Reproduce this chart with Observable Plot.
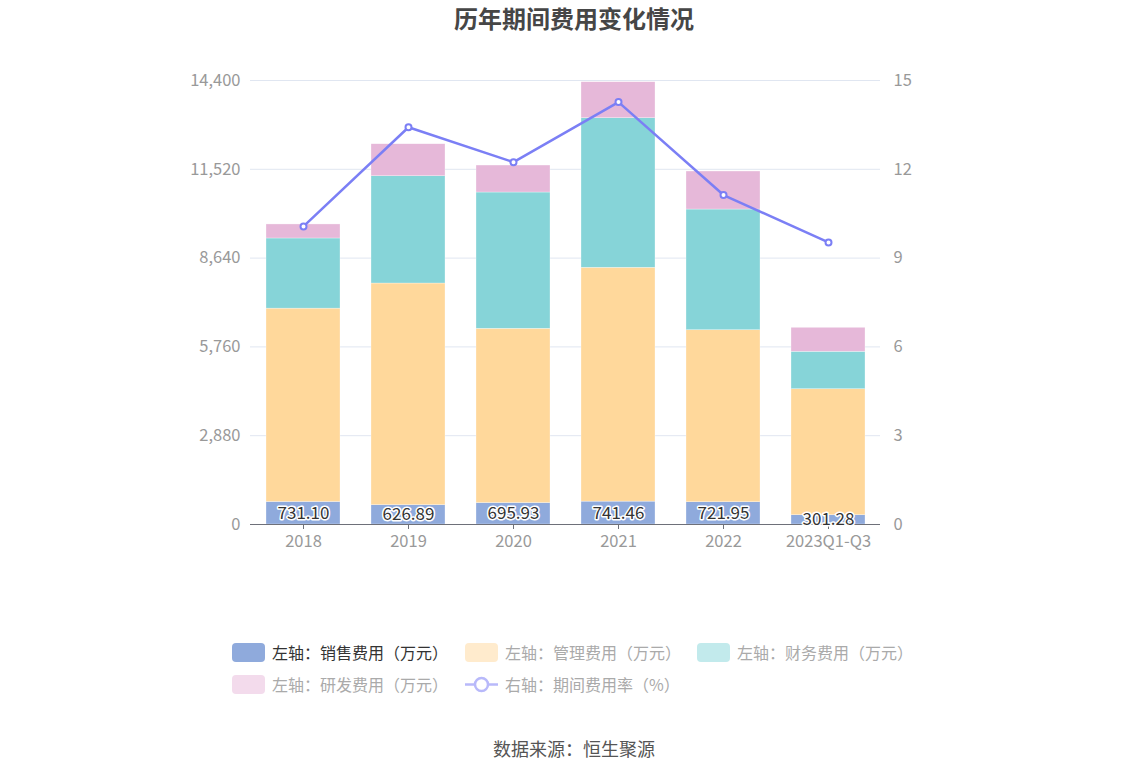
<!DOCTYPE html>
<html>
<head>
<meta charset="utf-8">
<script src="https://cdn.jsdelivr.net/npm/d3@7"></script>
<script src="https://cdn.jsdelivr.net/npm/@observablehq/plot@0.6"></script>
<style>
  html, body { margin: 0; padding: 0; background: #fff; }
  body { width: 1148px; height: 776px; position: relative; overflow: hidden; font-family: "Noto Sans CJK SC", "Noto Sans", sans-serif; }
  #title { position: absolute; left: 0; top: 1px; width: 1148px; text-align: center; font-size: 24px; font-weight: bold; color: #464646; line-height: 34px; }
  #chart { position: absolute; left: 0; top: 0; }
  .leg { position: absolute; display: flex; align-items: center; font-size: 16px; color: #aaa; white-space: nowrap; }
  .sw { width: 33px; height: 19px; border-radius: 4px; margin-right: 7px; }
  #source { position: absolute; left: 0; top: 735px; width: 1148px; text-align: center; font-size: 18px; color: #555; }
</style>
</head>
<body>
<div id="chart"></div>
<div id="title">历年期间费用变化情况</div>
<div id="legend"></div>
<div id="source">数据来源：恒生聚源</div>
<script>
const categories = ["2018", "2019", "2020", "2021", "2022", "2023Q1-Q3"];
const salesExp   = [731.10, 626.89, 695.93, 741.46, 721.95, 301.28];
const mgmtExp    = [6270, 7189, 5651, 7584, 5579, 4087];
const financeExp = [2275, 3479, 4420, 4851, 3914, 1213];
const rndExp     = [455, 1038, 875, 1168, 1233, 778];
const expenseRate = [10.07, 13.42, 12.24, 14.27, 11.13, 9.53];
const seriesNames = ["左轴：销售费用（万元）", "左轴：管理费用（万元）", "左轴：财务费用（万元）", "左轴：研发费用（万元）"];
const lineName = "右轴：期间费用率（%）";
const leftTicks = [0, 2880, 5760, 8640, 11520, 14400];
const rightTicks = [0, 3, 6, 9, 12, 15];

const colors = ["#8FAADC", "#FFD89B", "#86D4D8", "#E6B8D9"];
const legendColors = ["#8FAADC", "#FFEBCD", "#C2EAEC", "#F3DBEC"];
const lineColor = "#7B7FF5";
const ratio = leftTicks[leftTicks.length - 1] / rightTicks[rightTicks.length - 1];

const seriesValues = [salesExp, mgmtExp, financeExp, rndExp];
const table = [];
categories.forEach((c, i) => {
  seriesValues.forEach((vals, s) => table.push({cat: c, series: seriesNames[s], value: vals[i]}));
});
const rateData = categories.map((c, i) => ({cat: c, rate: expenseRate[i]}));
const salesData = categories.map((c, i) => ({cat: c, v: salesExp[i]}));

const font = "'Noto Sans CJK SC', 'Noto Sans', sans-serif";
const chart = Plot.plot({
  width: 1148,
  height: 560,
  marginLeft: 250,
  marginRight: 268,
  marginTop: 80,
  marginBottom: 36,
  style: {fontFamily: font, fontSize: "16px", background: "transparent", overflow: "visible"},
  x: {domain: categories, paddingInner: 0.3, paddingOuter: 0.15, label: null},
  y: {domain: [0, leftTicks[leftTicks.length - 1]], label: null},
  color: {domain: seriesNames, range: colors},
  marks: [
    Plot.gridY(leftTicks, {stroke: "#E0E6F1", strokeOpacity: 1, strokeWidth: 1}),
    Plot.barY(table, Plot.stackY({x: "cat", y: "value", fill: "series", stroke: "#ffffff", strokeWidth: 0.5, strokeOpacity: 0.6})),
    Plot.axisX({tickSize: 5, tickPadding: 6, stroke: "#6E7079", fill: "#999", fontSize: 16.5, label: null}),
    Plot.ruleY([0], {stroke: "#6E7079", strokeWidth: 1}),
    Plot.axisY({ticks: leftTicks, tickSize: 0, tickPadding: 10, tickFormat: d3.format(","), fill: "#999", fontSize: 16.5, label: null}),
    Plot.axisY({anchor: "right", ticks: leftTicks, tickSize: 0, tickPadding: 13, tickFormat: d => String(d / ratio), fill: "#999", fontSize: 16.5, label: null}),
    Plot.line(rateData, {x: "cat", y: d => d.rate * ratio, stroke: lineColor, strokeWidth: 2.5}),
    Plot.dot(rateData, {x: "cat", y: d => d.rate * ratio, r: 3, fill: "#fff", stroke: lineColor, strokeWidth: 2}),
    Plot.text(salesData, {x: "cat", y: d => d.v / 2, text: d => d.v.toFixed(2), fill: "#333", stroke: "#fff", strokeWidth: 3, fontSize: 17})
  ]
});
document.getElementById("chart").appendChild(chart);

// legend
const legendPos = [
  {x: 232, y: 640}, {x: 465, y: 640}, {x: 697, y: 640},
  {x: 232, y: 672}, {x: 465, y: 672}
];
const legend = document.getElementById("legend");
seriesNames.forEach((name, i) => {
  const d = document.createElement("div");
  d.className = "leg";
  d.style.left = legendPos[i].x + "px";
  d.style.top = legendPos[i].y + "px";
  d.style.color = i === 0 ? "#333" : "#aaa";
  d.innerHTML = `<div class="sw" style="background:${legendColors[i]}"></div><span>${name}</span>`;
  legend.appendChild(d);
});
{
  const d = document.createElement("div");
  d.className = "leg";
  d.style.left = legendPos[4].x + "px";
  d.style.top = legendPos[4].y + "px";
  d.innerHTML = `<svg width="33" height="19" style="margin-right:7px"><line x1="0" y1="9.5" x2="33" y2="9.5" stroke="#B8B9FA" stroke-width="2.5"/><circle cx="16.5" cy="9.5" r="6.5" fill="#fff" stroke="#B8B9FA" stroke-width="2.5"/></svg><span>${lineName}</span>`;
  legend.appendChild(d);
}
</script>
</body>
</html>
